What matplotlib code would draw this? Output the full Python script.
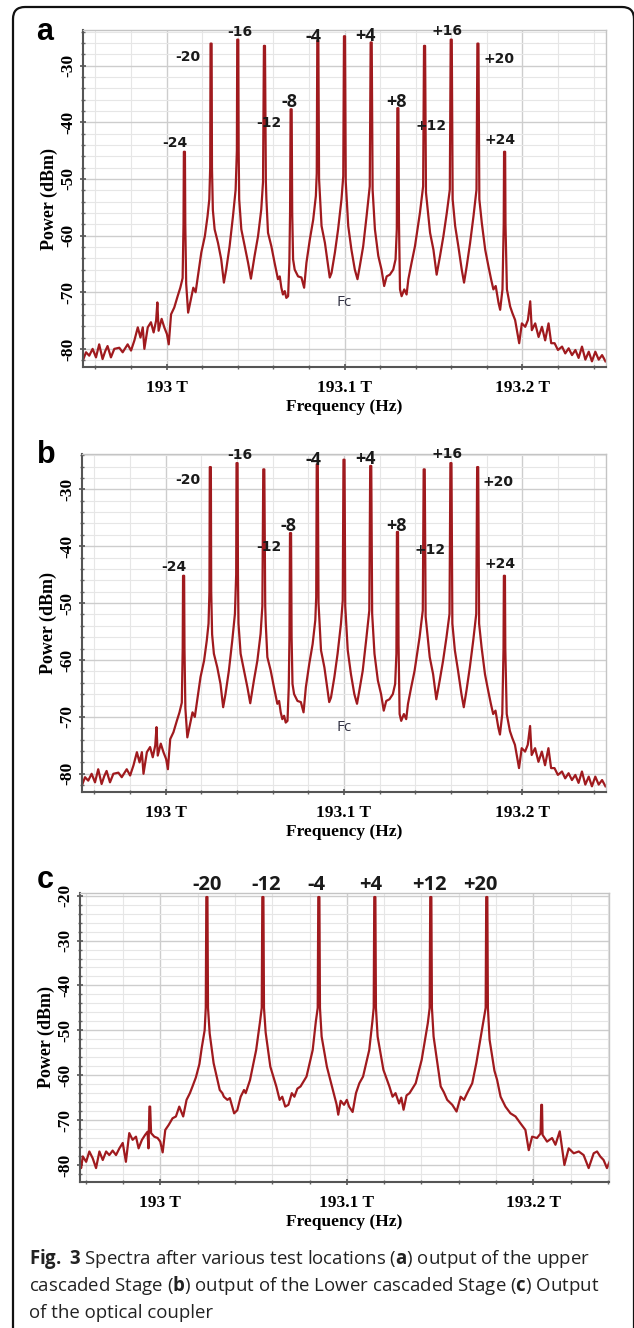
import matplotlib
matplotlib.use("Agg")
import numpy as np
import matplotlib.pyplot as plt
from matplotlib.ticker import FixedLocator, MultipleLocator, FuncFormatter
from matplotlib.patches import FancyBboxPatch
from matplotlib.transforms import IdentityTransform

plt.rcParams['axes.unicode_minus'] = False
plt.rcParams['mathtext.fontset'] = 'custom'
plt.rcParams['mathtext.rm'] = 'Open Sans'
plt.rcParams['mathtext.bf'] = 'Open Sans:bold'

F0 = 193.1  # THz, carrier Fc

# spectrum of panels a and b (same trace): offset from Fc in GHz, power in dBm
offset_a = [
    -147.0, -145.3, -143.5, -141.6, -139.7, -137.9, -136.0, -134.5, -133.2, -131.3,
    -129.4, -126.6, -124.7, -121.9, -120.0, -118.1, -116.2, -114.7, -113.4, -112.5,
    -110.6, -108.8, -107.3, -105.9, -105.2, -104.5, -102.8, -101.3, -99.8, -98.8,
    -97.5, -95.7, -93.8, -92.3, -91.0, -90.5, -90.3, -89.7, -89.5, -89.0,
    -87.9, -86.5, -85.0, -83.7, -82.4, -80.5, -78.5, -77.0, -76.0, -75.5,
    -75.3, -74.7, -74.5, -74.0, -73.0, -71.1, -69.3, -67.8, -66.5, -64.6,
    -62.7, -61.2, -60.5, -60.3, -59.7, -59.5, -59.2, -58.0, -56.1, -54.2,
    -52.6, -50.5, -48.6, -46.8, -45.8, -45.3, -44.7, -44.2, -43.9, -43.0,
    -41.1, -39.3, -37.4, -36.4, -35.5, -34.6, -33.6, -32.7, -31.7, -31.0,
    -30.6, -30.3, -29.7, -29.4, -28.9, -28.0, -26.1, -24.2, -22.7, -21.4,
    -19.5, -17.6, -16.1, -15.6, -15.3, -14.7, -14.3, -12.9, -11.0, -9.2,
    -8.3, -7.3, -5.4, -3.6, -1.7, -0.7, -0.3, 0.3, 0.7, 2.1,
    3.9, 5.8, 7.3, 8.6, 10.5, 12.4, 14.2, 14.7, 15.3, 15.8,
    17.1, 19.0, 20.8, 22.3, 23.7, 25.5, 27.4, 28.7, 29.4, 29.7,
    30.3, 30.6, 31.2, 32.1, 33.6, 34.9, 35.9, 37.7, 39.6, 42.4,
    44.2, 44.7, 45.3, 45.8, 48.1, 50.0, 51.8, 53.7, 55.6, 57.5,
    59.2, 59.7, 60.3, 60.8, 62.2, 64.0, 65.9, 67.2, 68.7, 70.6,
    72.5, 74.2, 74.7, 75.3, 75.8, 77.2, 79.1, 80.9, 82.4, 83.7,
    85.0, 86.6, 87.5, 88.8, 89.5, 89.7, 90.3, 90.5, 91.3, 93.1,
    94.4, 95.9, 98.2, 99.7, 101.6, 103.1, 104.4, 105.3, 107.2, 109.1,
    111.0, 112.8, 114.7, 116.2, 118.1, 120.0, 122.3, 124.1, 126.0, 127.9,
    129.8, 131.6, 133.5, 135.4, 137.3, 139.1, 141.0, 142.9, 144.8, 146.7,
]
power_a = [
    -82.0, -80.6, -81.2, -80.0, -81.5, -79.2, -81.8, -80.4, -79.5, -81.5,
    -80.0, -79.8, -80.6, -79.2, -80.3, -78.5, -76.2, -78.0, -76.2, -80.0,
    -76.2, -75.3, -77.1, -75.0, -71.8, -76.8, -74.7, -76.2, -77.4, -79.2,
    -73.9, -72.7, -70.7, -69.2, -67.5, -58.0, -45.2, -45.2, -58.0, -68.5,
    -73.6, -71.5, -69.2, -70.0, -67.2, -63.0, -60.1, -56.6, -53.6, -48.0,
    -26.1, -26.1, -48.0, -55.5, -58.9, -61.3, -64.2, -68.3, -66.0, -61.9,
    -56.6, -51.9, -45.0, -25.4, -25.4, -45.0, -53.6, -58.9, -61.9, -64.8,
    -67.6, -63.5, -60.1, -55.4, -50.5, -26.5, -26.5, -50.5, -53.6, -59.5,
    -61.9, -64.8, -67.7, -67.2, -69.2, -70.4, -69.8, -71.0, -70.7, -64.8,
    -56.0, -37.7, -37.7, -56.0, -64.2, -66.0, -67.2, -67.4, -69.2, -64.8,
    -60.7, -57.2, -53.0, -49.0, -25.6, -25.6, -50.0, -58.3, -61.3, -65.4,
    -67.4, -66.6, -63.0, -58.9, -53.6, -49.5, -24.8, -24.8, -50.5, -58.3,
    -62.5, -66.0, -67.7, -65.4, -61.9, -56.6, -51.3, -25.9, -25.9, -51.9,
    -58.9, -63.6, -66.0, -68.9, -67.2, -66.9, -66.0, -64.2, -58.9, -37.5,
    -37.5, -57.2, -69.5, -70.7, -69.5, -70.4, -67.7, -64.8, -61.9, -56.0,
    -51.3, -26.5, -26.5, -52.4, -59.5, -62.5, -66.9, -63.6, -60.1, -56.0,
    -51.9, -25.4, -25.4, -53.6, -58.3, -61.9, -66.0, -68.3, -65.4, -61.3,
    -56.6, -51.9, -26.1, -26.1, -53.6, -57.8, -62.5, -65.4, -67.7, -69.5,
    -68.9, -71.9, -73.1, -69.5, -58.0, -45.2, -45.2, -58.0, -69.5, -72.5,
    -73.7, -74.9, -79.0, -75.5, -76.1, -74.9, -71.6, -76.7, -75.5, -77.9,
    -76.1, -78.5, -75.5, -79.0, -79.0, -80.2, -79.6, -80.8, -79.9, -81.1,
    -80.2, -81.6, -79.6, -81.9, -80.5, -82.2, -80.5, -81.9, -81.1, -82.2,
]

# spectrum of panel c (optical coupler output)
offset_c = [
    -143.0, -142.4, -141.5, -139.7, -138.0, -136.2, -134.4, -132.6, -130.8, -129.0,
    -127.3, -125.5, -123.7, -121.9, -120.1, -118.4, -116.6, -114.8, -113.0, -111.6,
    -109.8, -108.1, -106.8, -106.3, -105.8, -105.4, -104.9, -103.2, -101.4, -100.0,
    -98.7, -97.3, -95.5, -93.4, -91.6, -89.8, -87.7, -85.9, -84.1, -82.7,
    -80.9, -79.0, -77.8, -76.2, -75.6, -75.3, -74.7, -74.4, -73.5, -71.4,
    -68.1, -66.7, -65.9, -64.0, -62.7, -60.4, -58.7, -56.9, -55.1, -54.2,
    -51.9, -48.6, -46.5, -45.6, -45.3, -44.7, -44.4, -43.5, -41.0, -37.8,
    -36.0, -34.6, -33.0, -31.3, -29.5, -28.1, -26.5, -24.8, -21.6, -18.3,
    -16.6, -15.6, -15.3, -14.7, -14.4, -13.5, -10.7, -7.5, -5.5, -4.6,
    -3.3, -1.5, 0.0, 1.2, 3.1, 4.9, 6.7, 8.7, 12.0, 13.7,
    14.4, 14.7, 15.3, 15.6, 16.5, 19.6, 22.8, 24.5, 26.1, 28.0,
    29.2, 30.4, 32.0, 33.6, 36.9, 40.1, 43.4, 44.4, 44.7, 45.3,
    45.6, 46.5, 48.8, 50.3, 52.0, 53.8, 56.5, 58.8, 61.0, 62.8,
    64.5, 67.2, 69.4, 73.0, 74.4, 74.7, 75.3, 75.6, 76.5, 79.1,
    80.5, 82.4, 85.0, 87.7, 90.4, 93.0, 95.7, 97.5, 99.3, 101.9,
    103.8, 104.2, 104.6, 104.9, 107.3, 110.0, 111.8, 114.1, 116.6, 118.9,
    121.6, 124.3, 126.9, 129.6, 132.3, 134.1, 135.8, 137.6, 139.4, 141.2,
]
power_c = [
    -79.5, -80.7, -78.1, -79.3, -77.0, -78.5, -80.7, -77.0, -78.9, -77.0,
    -77.8, -76.8, -77.8, -76.3, -75.1, -79.3, -72.9, -74.4, -73.7, -76.3,
    -74.4, -73.3, -72.6, -76.3, -67.0, -67.0, -72.9, -73.7, -74.0, -74.8,
    -77.2, -72.2, -71.1, -69.6, -69.2, -67.0, -69.2, -65.5, -64.0, -62.5,
    -60.5, -57.5, -54.0, -50.0, -45.0, -20.3, -20.3, -45.0, -50.7, -57.3,
    -63.3, -64.0, -64.8, -65.5, -65.1, -68.5, -67.8, -64.8, -63.3, -64.0,
    -61.1, -54.4, -48.0, -45.0, -20.3, -20.3, -45.0, -50.5, -58.1, -62.5,
    -65.5, -64.8, -67.0, -66.6, -64.0, -64.8, -63.0, -62.5, -60.3, -54.4,
    -48.0, -45.0, -20.3, -20.3, -45.0, -51.4, -58.1, -63.3, -66.5, -68.8,
    -65.7, -66.6, -65.5, -67.0, -68.2, -64.0, -61.8, -60.3, -54.4, -48.0,
    -45.0, -20.3, -20.3, -45.0, -51.4, -58.8, -62.5, -64.8, -64.0, -66.3,
    -65.0, -67.7, -64.5, -64.0, -61.8, -56.6, -48.4, -45.0, -20.3, -20.3,
    -45.0, -51.4, -58.1, -62.5, -63.8, -65.5, -66.6, -68.1, -64.8, -65.5,
    -64.0, -61.8, -57.3, -48.4, -45.0, -20.3, -20.3, -45.0, -52.1, -59.0,
    -61.0, -64.8, -67.0, -68.5, -69.2, -70.7, -72.2, -76.7, -73.7, -74.0,
    -73.0, -66.6, -66.6, -73.3, -74.8, -74.0, -75.5, -72.5, -80.0, -76.3,
    -77.4, -77.0, -77.8, -80.7, -77.4, -77.0, -78.1, -78.9, -80.7, -78.9,
]

# peak annotations (channel index relative to Fc)
labels_ab = ['-24', '-20', '-16', '-12', '-8', '-4', '+4', '+8', '+12', '+16', '+20', '+24']
labels_c = ['-20', '-12', '-4', '+4', '+12', '+20']

# annotation anchors (offset GHz, dBm)
pos_ab = [(-95.2, -43.6), (-87.9, -28.4), (-58.6, -24.0), (-42.3, -40.2),
          (-31.0, -36.4), (-17.2, -24.9), (11.9, -24.7), (29.2, -36.4),
          (48.5, -40.6), (57.6, -23.8), (86.6, -28.8), (87.7, -43.1)]
pos_c = [(-75.0, -17.6), (-43.2, -17.6), (-16.1, -17.6),
         (13.0, -17.6), (44.0, -17.6), (71.5, -17.6)]
big_labels = ['-8', '-4', '+4', '+8']

W, H = 634, 1328
fig = plt.figure(figsize=(W / 100, H / 100), dpi=100)

RED = '#a01a1e'
SERIF = 'Liberation Serif'


def px_box(left, top, right, bottom):
    return [left / W, 1 - bottom / H, (right - left) / W, (bottom - top) / H]


def style_axes(ax, xlim, ylim):
    ax.set_xlim(*xlim)
    ax.set_ylim(*ylim)
    ax.xaxis.set_major_locator(FixedLocator([193.0, 193.1, 193.2]))
    ax.xaxis.set_major_formatter(FuncFormatter(lambda v, p: f'{v:g} T'))
    ax.xaxis.set_minor_locator(MultipleLocator(0.02))
    ax.yaxis.set_major_locator(MultipleLocator(10))
    ax.yaxis.set_minor_locator(MultipleLocator(2))
    ax.grid(which='minor', color='#e6e6e6', lw=0.8)
    ax.grid(which='major', color='#cdcdcd', lw=1.0)
    ax.set_axisbelow(True)
    for s in ['left', 'bottom']:
        ax.spines[s].set_color('#555555')
        ax.spines[s].set_linewidth(1.5)
    for s in ['top', 'right']:
        ax.spines[s].set_color('#c4c4c4')
        ax.spines[s].set_linewidth(1.0)
    ax.tick_params(which='major', direction='inout', length=5, width=1.2, color='#555555')
    ax.tick_params(which='minor', direction='inout', length=3, width=1.0, color='#666666')
    ax.tick_params(axis='x', pad=7)
    ax.tick_params(axis='y', pad=2, labelrotation=90)
    for t in ax.get_xticklabels():
        t.set_fontfamily(SERIF)
        t.set_fontweight('bold')
        t.set_fontsize(12.5)
    for t in ax.get_yticklabels():
        t.set_fontfamily(SERIF)
        t.set_fontweight('bold')
        t.set_fontsize(12.5)
        t.set_va('center')
    ax.set_xlabel('Frequency (Hz)', fontfamily=SERIF, fontweight='bold', fontsize=12.5, labelpad=2)
    ax.set_ylabel('Power (dBm)', fontfamily=SERIF, fontweight='bold', fontsize=13, labelpad=2)


def thz(offsets):
    return [F0 + o / 1000.0 for o in offsets]


panels = [
    ('a', px_box(83, 30, 606, 367), offset_a, power_a, (-83.2, -23.7), (192.953, 193.247)),
    ('b', px_box(82, 454, 606, 792), offset_a, power_a, (-83.2, -23.8), (192.953, 193.247)),
    ('c', px_box(80, 893, 609, 1182), offset_c, power_c, (-83.8, -19.4), (192.957, 193.2405)),
]

for name, box, offs, pw, ylim, xlim in panels:
    ax = fig.add_axes(box)
    ax.plot(thz(offs), pw, color=RED, lw=1.6, solid_joinstyle='round')
    style_axes(ax, xlim, ylim)
    if name in ('a', 'b'):
        for lab, (o, p) in zip(labels_ab, pos_ab):
            if lab in big_labels:
                ax.text(F0 + o / 1000, p, lab, ha='center', va='center',
                        fontfamily='Open Sans', fontweight='bold', fontsize=13, color='#1a1a1a')
            else:
                ax.text(F0 + o / 1000, p, lab, ha='center', va='center',
                        fontfamily='DejaVu Sans', fontweight='bold', fontsize=10, color='#1a1a1a')
        ax.text(F0, -71.8, 'Fc', ha='center', va='center', fontfamily='Open Sans',
                fontsize=11, color='#333344')
    else:
        for lab, (o, p) in zip(labels_c, pos_c):
            ax.text(F0 + o / 1000, p, lab, ha='center', va='center',
                    fontfamily='Open Sans', fontweight='bold', fontsize=14.5, color='#1a1a1a')

# panel letters
for letter, x, y in [('a', 36, 40), ('b', 37, 463), ('c', 37, 888)]:
    fig.text(x / W, 1 - y / H, letter, ha='left', va='baseline',
             fontfamily='Liberation Sans', fontweight='bold', fontsize=22)

# caption
caption = [
    r'$\mathbf{Fig.}$ $\mathbf{3}$ Spectra after various test locations ($\mathbf{a}$) output of the upper',
    r'cascaded Stage ($\mathbf{b}$) output of the Lower cascaded Stage ($\mathbf{c}$) Output',
    'of the optical coupler',
]
for i, line in enumerate(caption):
    fig.text(29 / W, 1 - (1264 + 27 * i) / H, line, ha='left', va='baseline',
             fontfamily='Open Sans', fontsize=13.4, color='#222222')

# rounded frame
frame = FancyBboxPatch((13, -30), 621, H - 7 + 30, boxstyle='round,pad=0,rounding_size=12',
                       transform=IdentityTransform(), fill=False, ec='#111111', lw=1.6)
fig.patches.append(frame)

fig.savefig('out.png', dpi=100)
